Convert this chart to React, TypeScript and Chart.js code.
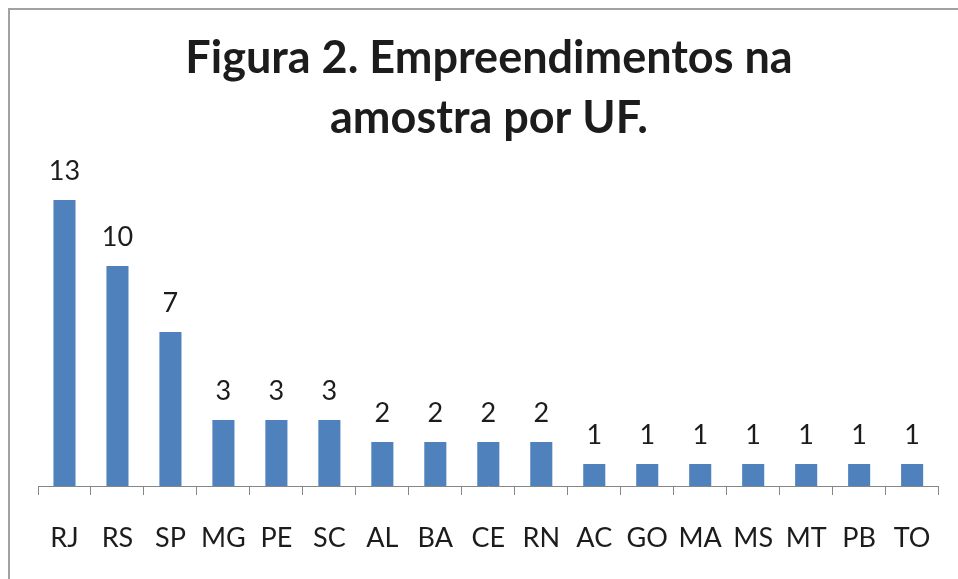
import React, { useEffect, useRef } from "react";
import { Chart, registerables } from "chart.js";

Chart.register(...registerables);

const categories = ["RJ", "RS", "SP", "MG", "PE", "SC", "AL", "BA", "CE", "RN", "AC", "GO", "MA", "MS", "MT", "PB", "TO"];
const values = [13, 10, 7, 3, 3, 3, 2, 2, 2, 2, 1, 1, 1, 1, 1, 1, 1];
const titleLines = ["Figura 2. Empreendimentos na", "amostra por UF."];

const FONT = "Lato, 'Open Sans', sans-serif";
const TEXT = "#1c1c1c";

const dataLabels = {
  id: "dataLabels",
  afterDatasetsDraw(chart: any) {
    const ctx = chart.ctx;
    const meta = chart.getDatasetMeta(0);
    ctx.save();
    ctx.font = `27px ${FONT}`;
    ctx.fillStyle = TEXT;
    ctx.textAlign = "center";
    ctx.textBaseline = "alphabetic";
    meta.data.forEach((bar: any, i: number) => {
      ctx.fillText(String(values[i]), bar.x, bar.y - 20);
    });
    ctx.restore();
  },
};

export default function App() {
  const ref = useRef<HTMLCanvasElement | null>(null);
  useEffect(() => {
    if (!ref.current) return;
    const chart = new Chart(ref.current, {
      type: "bar",
      data: {
        labels: categories,
        datasets: [
          {
            data: values,
            backgroundColor: "#4F81BD",
            borderWidth: 0,
            categoryPercentage: 1,
            barPercentage: 1 / 2.4,
          },
        ],
      },
      options: {
        responsive: false,
        animation: false,
        devicePixelRatio: 1,
        layout: { padding: { left: 38, right: 18, top: 0, bottom: 0 } },
        plugins: {
          legend: { display: false },
          tooltip: { enabled: false },
          title: {
            display: true,
            text: titleLines,
            color: TEXT,
            font: { family: FONT, size: 45, weight: "bold", lineHeight: 60 / 45 },
            padding: { top: 28, bottom: 30 },
          },
        },
        scales: {
          x: {
            grid: {
              display: true,
              drawOnChartArea: false,
              drawTicks: true,
              tickLength: 9,
              color: "#868686",
              offset: true,
            },
            border: { display: true, color: "#868686", width: 1 },
            ticks: {
              color: TEXT,
              font: { family: FONT, size: 27 },
              padding: 27,
              maxRotation: 0,
              autoSkip: false,
            },
            afterFit(scale: any) {
              scale.height = 93;
            },
          },
          y: {
            display: false,
            min: 0,
            max: 14,
          },
        },
      },
      plugins: [dataLabels],
    });
    return () => chart.destroy();
  }, []);

  return (
    <div style={{ position: "fixed", left: 0, top: 0, width: 958, height: 579, overflow: "hidden", background: "#fff" }}>
      <div
        style={{
          position: "absolute",
          left: 8,
          top: 8,
          width: 1000,
          height: 700,
          borderLeft: "2px solid #a2a2a2",
          borderTop: "2px solid #a2a2a2",
          boxSizing: "border-box",
        }}
      />
      <canvas ref={ref} width={958} height={579} style={{ position: "absolute", left: 0, top: 0, width: 958, height: 579 }} />
    </div>
  );
}
